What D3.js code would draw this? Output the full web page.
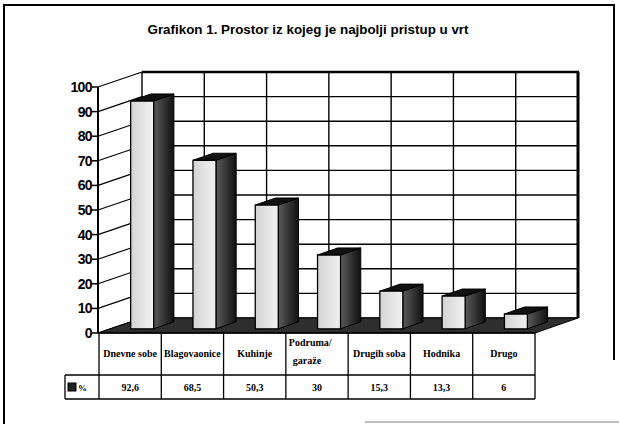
<!DOCTYPE html>
<html>
<head>
<meta charset="utf-8">
<script src="https://cdn.jsdelivr.net/npm/d3@7"></script>
<style>
  body { margin: 0; background: white; }
</style>
</head>
<body>
<div id="chart"></div>
<script>
var categories = ["Dnevne sobe", "Blagovaonice", "Kuhinje", "Podruma/ garaže", "Drugih soba", "Hodnika", "Drugo"]
var values = [92.6, 68.5, 50.3, 30, 15.3, 13.3, 6]
var valueLabels = ["92,6", "68,5", "50,3", "30", "15,3", "13,3", "6"]
var yTicks = [0, 10, 20, 30, 40, 50, 60, 70, 80, 90, 100]
var title = "Grafikon 1. Prostor iz kojeg je najbolji pristup u vrt"
var seriesName = "%"

var w = 619, h = 424
var depthX = 43, depthY = -15   // offset from front plane to back wall
var barFront = 0.28, barBack = 0.75, barHalf = 11.5

var svg = d3.select("#chart").append("svg")
    .attr("width", w)
    .attr("height", h)

var defs = svg.append("defs")
var g1 = defs.append("linearGradient").attr("id", "front")
g1.append("stop").attr("offset", "0%").attr("stop-color", "#d4d4d4")
g1.append("stop").attr("offset", "100%").attr("stop-color", "#f2f2f2")
var g2 = defs.append("linearGradient").attr("id", "side")
g2.append("stop").attr("offset", "0%").attr("stop-color", "#5a5a5a")
g2.append("stop").attr("offset", "100%").attr("stop-color", "#101010")

// frame
svg.append("path")
    .attr("d", "M4,424 L4,5 L614,5 L614,360")
    .attr("fill", "none").attr("stroke", "#000").attr("stroke-width", 2)
svg.append("line")
    .attr("x1", 365).attr("x2", 619).attr("y1", 422).attr("y2", 422)
    .attr("stroke", "#aaa").attr("stroke-width", 1.5)

svg.append("text")
    .attr("x", 308).attr("y", 34)
    .attr("text-anchor", "middle")
    .attr("font-family", "Liberation Sans, Arial, sans-serif")
    .attr("font-weight", "bold")
    .attr("font-size", 13)
    .attr("textLength", 321)
    .attr("lengthAdjust", "spacingAndGlyphs")
    .text(title)

var xScale = d3.scaleBand()
    .domain(categories)
    .range([99, 535])
var yScale = d3.scaleLinear()
    .domain([0, 100])
    .range([333, 87])
var bw = xScale.bandwidth()
var x0 = xScale.range()[0], x1 = xScale.range()[1]

// back wall + side wall gridlines
var grid = svg.append("g").attr("stroke", "#000")
grid.selectAll(".hg").data(yTicks).enter().append("line")
    .attr("x1", x0 + depthX).attr("x2", x1 + depthX)
    .attr("y1", d => yScale(d) + depthY).attr("y2", d => yScale(d) + depthY)
    .attr("stroke-width", 1.4)
grid.selectAll(".sg").data(yTicks).enter().append("line")
    .attr("x1", x0 - 1).attr("x2", x0 + depthX)
    .attr("y1", d => yScale(d)).attr("y2", d => yScale(d) + depthY)
    .attr("stroke-width", 1.2)
grid.selectAll(".vg").data(categories).enter().append("line")
    .attr("x1", d => xScale(d) + depthX).attr("x2", d => xScale(d) + depthX)
    .attr("y1", yScale(100) + depthY).attr("y2", yScale(0) + depthY)
    .attr("stroke-width", 1.4)
grid.append("line")
    .attr("x1", x1 + depthX).attr("x2", x1 + depthX)
    .attr("y1", yScale(100) + depthY).attr("y2", yScale(0) + depthY)
    .attr("stroke-width", 3)
grid.append("line")
    .attr("x1", x0 + depthX).attr("x2", x1 + depthX + 1)
    .attr("y1", yScale(100) + depthY).attr("y2", yScale(100) + depthY)
    .attr("stroke-width", 2.5)

// floor
svg.append("polygon")
    .attr("points", [[x0 - 1, yScale(0)], [x1, yScale(0)], [x1 + depthX, yScale(0) + depthY], [x0 + depthX, yScale(0) + depthY]].join(" "))
    .attr("fill", "#2e2e2e").attr("stroke", "#000").attr("stroke-width", 1)

// front axis
svg.append("line")
    .attr("x1", x0 - 1).attr("x2", x0 - 1)
    .attr("y1", yScale(100)).attr("y2", yScale(0))
    .attr("stroke", "#000").attr("stroke-width", 2)
svg.selectAll(".tick").data(yTicks).enter().append("line")
    .attr("x1", x0 - 7).attr("x2", x0 - 1)
    .attr("y1", d => yScale(d)).attr("y2", d => yScale(d))
    .attr("stroke", "#000").attr("stroke-width", 1.5)
svg.selectAll(".ylab").data(yTicks).enter().append("text")
    .attr("x", x0 - 7).attr("y", d => yScale(d) + 5)
    .attr("text-anchor", "end")
    .attr("font-family", "Liberation Sans, Arial, sans-serif")
    .attr("font-weight", "bold")
    .attr("font-size", 14)
    .attr("letter-spacing", -0.6)
    .text(d => d)

// bars
function pt(x, y, z) { return [x + z * depthX, y + z * depthY] }
var bars = svg.append("g").selectAll("g").data(categories).enter().append("g")
bars.each(function(c, i) {
  var g = d3.select(this)
  var cx = xScale(c) + bw / 2
  var xl = cx - barHalf, xr = cx + barHalf
  var yt = yScale(values[i]), yb = yScale(0)
  var a = pt(xl, yt, barFront), b = pt(xr, yt, barFront)
  var cB = pt(xr, yb, barFront), d = pt(xl, yb, barFront)
  var bb = pt(xr, yt, barBack), ab = pt(xl, yt, barBack), cb = pt(xr, yb, barBack)
  g.append("polygon").attr("points", [b, bb, cb, cB].join(" "))
      .attr("fill", "url(#side)").attr("stroke", "#000").attr("stroke-width", 1)
  g.append("polygon").attr("points", [a, b, bb, ab].join(" "))
      .attr("fill", "#111").attr("stroke", "#000").attr("stroke-width", 1)
  g.append("polygon").attr("points", [a, b, cB, d].join(" "))
      .attr("fill", "url(#front)").attr("stroke", "#000").attr("stroke-width", 1.3)
})

// data table
var table = svg.append("g").attr("stroke", "#000").attr("stroke-width", 1.3)
var rowTop = yScale(0), rowMid = 375, rowBot = 399
table.append("line").attr("x1", x0 - 1).attr("x2", x1).attr("y1", rowTop).attr("y2", rowTop)
table.append("line").attr("x1", 65).attr("x2", x1).attr("y1", rowMid).attr("y2", rowMid)
table.append("line").attr("x1", 65).attr("x2", x1).attr("y1", rowBot).attr("y2", rowBot)
table.append("line").attr("x1", 65).attr("x2", 65).attr("y1", rowMid).attr("y2", rowBot)
table.selectAll(".col").data(categories).enter().append("line")
    .attr("x1", d => xScale(d)).attr("x2", d => xScale(d))
    .attr("y1", rowTop).attr("y2", rowBot)
table.append("line").attr("x1", x1).attr("x2", x1).attr("y1", rowTop).attr("y2", rowBot)

var serif = "Liberation Serif, Times New Roman, serif"
svg.selectAll(".cat").data(categories).enter().append("text")
    .attr("font-family", serif).attr("font-weight", "bold").attr("font-size", 10)
    .each(function(c) {
      var t = d3.select(this)
      var parts = c.split("/ ")
      if (parts.length > 1) {
        t.attr("text-anchor", "start")
        t.append("tspan").attr("x", xScale(c) + 3).attr("y", 346).text(parts[0] + "/")
        t.append("tspan").attr("x", xScale(c) + 7).attr("y", 364).text(parts[1])
      } else {
        t.attr("text-anchor", "middle").attr("x", xScale(c) + bw / 2).attr("y", 357).text(c)
      }
    })
svg.selectAll(".val").data(categories).enter().append("text")
    .attr("x", d => xScale(d) + bw / 2).attr("y", 391)
    .attr("text-anchor", "middle")
    .attr("font-family", serif).attr("font-weight", "bold").attr("font-size", 10)
    .text((d, i) => valueLabels[i])

svg.append("rect").attr("x", 68).attr("y", 383).attr("width", 8).attr("height", 8)
    .attr("fill", "#222").attr("stroke", "#000")
svg.append("text").attr("x", 78).attr("y", 391)
    .attr("font-family", serif).attr("font-weight", "bold").attr("font-size", 9)
    .text(seriesName)
</script>
</body>
</html>
